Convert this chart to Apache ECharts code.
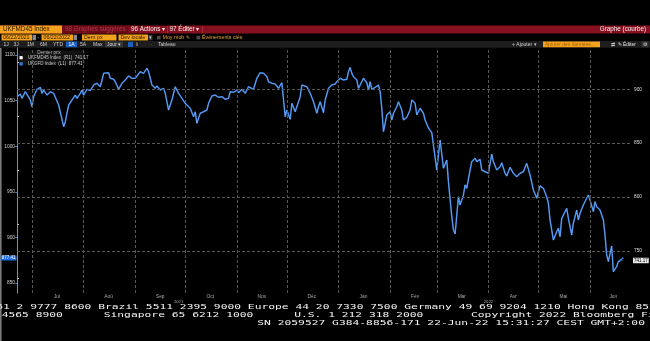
<!DOCTYPE html>
<html>
<head>
<meta charset="utf-8">
<script src="https://cdn.jsdelivr.net/npm/echarts@6/dist/echarts.min.js"></script>
<style>
  html, body { margin: 0; padding: 0; background: #000; }
  #chart { width: 650px; height: 341px; }
</style>
</head>
<body>
<div id="chart"></div>
<script>
// Observation dates shared by both indices
const dates = [
  '2021-06-22','2021-06-24','2021-06-25','2021-06-27','2021-06-28','2021-06-30',
  '2021-07-01','2021-07-02','2021-07-04','2021-07-06','2021-07-07','2021-07-08','2021-07-10','2021-07-12','2021-07-14','2021-07-17','2021-07-20','2021-07-21','2021-07-23','2021-07-25','2021-07-27','2021-07-28','2021-07-30','2021-07-31',
  '2021-08-01','2021-08-03','2021-08-05','2021-08-07','2021-08-09','2021-08-11','2021-08-13','2021-08-14','2021-08-16','2021-08-17','2021-08-19','2021-08-20','2021-08-22','2021-08-24','2021-08-26','2021-08-28','2021-08-30',
  '2021-09-01','2021-09-02','2021-09-04','2021-09-06','2021-09-08','2021-09-09','2021-09-11','2021-09-13','2021-09-14','2021-09-16','2021-09-18','2021-09-19','2021-09-20','2021-09-21','2021-09-23','2021-09-25','2021-09-27','2021-09-29',
  '2021-10-01','2021-10-02','2021-10-04','2021-10-06','2021-10-07','2021-10-08','2021-10-10','2021-10-12','2021-10-14','2021-10-15','2021-10-17','2021-10-19','2021-10-21','2021-10-23','2021-10-25','2021-10-27','2021-10-28','2021-10-30',
  '2021-11-01','2021-11-02','2021-11-04','2021-11-06','2021-11-08','2021-11-09','2021-11-11','2021-11-13','2021-11-15','2021-11-17','2021-11-19','2021-11-20','2021-11-22','2021-11-24','2021-11-26','2021-11-28','2021-11-30',
  '2021-12-01','2021-12-03','2021-12-04','2021-12-06','2021-12-07','2021-12-09','2021-12-10','2021-12-13','2021-12-15','2021-12-17','2021-12-19','2021-12-20','2021-12-21','2021-12-23','2021-12-24','2021-12-26','2021-12-28','2021-12-30','2021-12-31',
  '2022-01-02','2022-01-04','2022-01-06','2022-01-07','2022-01-08','2022-01-09','2022-01-10','2022-01-12','2022-01-13','2022-01-15','2022-01-16','2022-01-18','2022-01-19','2022-01-20','2022-01-21','2022-01-23','2022-01-25','2022-01-26','2022-01-27','2022-01-28','2022-01-29','2022-01-30',
  '2022-02-01','2022-02-02','2022-02-03','2022-02-05','2022-02-06','2022-02-08','2022-02-09','2022-02-11','2022-02-13','2022-02-14','2022-02-16','2022-02-17','2022-02-19','2022-02-21','2022-02-22','2022-02-24','2022-02-26','2022-02-27',
  '2022-03-01','2022-03-03','2022-03-04','2022-03-05','2022-03-07','2022-03-08','2022-03-10','2022-03-11','2022-03-12','2022-03-14','2022-03-15','2022-03-17','2022-03-18','2022-03-19','2022-03-21','2022-03-22','2022-03-24','2022-03-25','2022-03-27','2022-03-28','2022-03-30',
  '2022-04-01','2022-04-03','2022-04-04','2022-04-06','2022-04-08','2022-04-09','2022-04-11','2022-04-12','2022-04-14','2022-04-16','2022-04-18','2022-04-20','2022-04-21','2022-04-22','2022-04-24','2022-04-26','2022-04-28','2022-04-30',
  '2022-05-01','2022-05-02','2022-05-04','2022-05-06','2022-05-07','2022-05-08','2022-05-10','2022-05-12','2022-05-13','2022-05-14','2022-05-15','2022-05-16','2022-05-18','2022-05-19','2022-05-21','2022-05-22','2022-05-24','2022-05-25','2022-05-26','2022-05-28','2022-05-30','2022-05-31',
  '2022-06-01','2022-06-03','2022-06-04','2022-06-05','2022-06-07','2022-06-09','2022-06-10','2022-06-11','2022-06-12','2022-06-14','2022-06-15','2022-06-17','2022-06-18','2022-06-21'
];

// UKGFD Index (left scale, L1)
const ukgfd = [
  1054.3,1057.2,1052.5,1059.8,1058.7,1050.7,
  1043.3,1054.3,1062.4,1064.6,1058.0,1061.6,1056.1,1059.8,1058.0,1045.2,1021.4,1026.9,1045.2,1050.7,1056.1,1052.5,1058.0,1061.6,
  1056.1,1062.4,1060.9,1067.1,1069.0,1065.2,1079.9,1081.7,1080.6,1074.5,1073.4,1070.7,1062.4,1069.0,1072.6,1077.0,1074.5,
  1074.5,1073.4,1081.7,1079.9,1085.4,1081.7,1067.1,1063.5,1066.0,1061.6,1063.5,1058.0,1059.8,1039.7,1050.7,1065.2,1058.0,1052.5,
  1047.0,1048.8,1041.6,1032.3,1037.8,1025.1,1036.1,1037.8,1039.7,1047.0,1055.0,1056.1,1053.6,1054.3,1051.4,1052.5,1059.8,1059.1,
  1061.6,1058.7,1062.4,1058.0,1065.2,1067.1,1062.4,1074.5,1080.6,1079.9,1076.2,1070.7,1069.0,1068.2,1063.5,1069.6,1032.3,
  1039.7,1029.5,1047.0,1037.8,1036.1,1054.3,1067.1,1065.2,1058.0,1048.8,1036.1,1043.3,1048.8,1036.7,1050.7,1063.5,1067.1,1068.2,1070.7,
  1074.5,1072.6,1073.4,1081.7,1086.5,1079.9,1076.2,1072.6,1063.5,1070.7,1074.5,1069.6,1061.6,1070.7,1062.4,1064.6,1067.1,1059.8,1041.6,1015.9,1025.1,1034.2,
  1037.8,1028.7,1036.1,1043.3,1048.8,1039.7,1028.7,1031.7,1039.7,1050.7,1047.0,1034.2,1041.6,1036.1,1028.7,1020.0,1014.8,1015.9,
  973.9,1006.8,1004.9,975.8,984.9,961.1,922.7,908.1,903.7,944.6,935.5,946.5,957.5,953.8,973.9,983.0,986.7,983.0,985.6,973.9,972.0,
  970.3,991.4,983.0,973.9,977.5,981.9,970.3,967.3,976.9,970.3,966.6,970.3,968.4,972.0,981.2,968.4,952.0,942.9,
  950.1,956.4,953.8,944.6,937.4,919.1,897.1,906.2,910.0,900.8,920.9,922.7,931.9,920.9,902.6,915.5,930.0,919.1,926.4,935.5,942.9,946.5,
  941.0,928.2,939.1,933.7,930.0,919.1,902.6,880.7,873.4,890.6,862.4,867.9,873.4,877.41
];

// UKFMD45 Index (right scale, R1)
const ukfmd45 = [
  893.1,895.6,891.6,897.8,896.8,890.1,
  883.9,893.1,900.0,901.8,896.3,899.3,894.7,897.8,896.3,885.4,865.3,869.9,885.4,890.1,894.7,891.6,896.3,899.3,
  894.7,900.0,898.7,904.0,905.6,902.4,914.8,916.3,915.4,910.2,909.3,907.0,900.0,905.6,908.6,912.3,910.2,
  910.2,909.3,916.3,914.8,919.5,916.3,904.0,900.9,903.1,899.3,900.9,896.3,897.8,880.8,890.1,902.4,896.3,891.6,
  887.0,888.5,882.4,874.6,879.2,868.5,877.7,879.2,880.8,887.0,893.8,894.7,892.6,893.1,890.7,891.6,897.8,897.2,
  899.3,896.8,900.0,896.3,902.4,904.0,900.0,910.2,915.4,914.8,911.7,907.0,905.6,904.9,900.9,906.1,874.6,
  880.8,872.2,887.0,879.2,877.7,893.1,904.0,902.4,896.3,888.5,877.7,883.9,888.5,878.3,890.1,900.9,904.0,904.9,907.0,
  910.2,908.6,909.3,916.3,920.4,914.8,911.7,908.6,900.9,907.0,910.2,906.1,899.3,907.0,900.0,901.8,904.0,897.8,882.4,860.7,868.5,876.2,
  879.2,871.5,877.7,883.9,888.5,880.8,871.5,874.0,880.8,890.1,887.0,876.2,882.4,877.7,871.5,864.1,859.7,860.7,
  825.1,853.0,851.4,826.7,834.4,814.3,781.8,769.5,765.8,800.4,792.7,801.9,811.2,808.2,825.1,832.8,836.0,832.8,835.1,825.1,823.6,
  822.1,840.0,832.8,825.1,828.2,831.9,822.1,819.6,827.6,822.1,818.9,822.1,820.5,823.6,831.4,820.5,806.6,798.9,
  805.0,810.3,808.2,800.4,794.2,778.8,760.2,767.9,771.1,763.3,780.3,781.8,789.6,780.3,764.8,775.7,788.0,778.8,785.0,792.7,798.9,801.9,
  797.3,786.5,795.7,791.1,788.0,778.8,764.8,746.3,740.1,754.6,730.8,735.4,740.1,741.17
];

// Axis labels and tick positions
const monthLabels = ['Jul','Aoû','Sep','Oct','Nov','Déc','Jan','Fév','Mar','Avr','Mai','Jun'];
const monthLabelDates = ['2021-07-16','2021-08-16','2021-09-16','2021-10-16','2021-11-16','2021-12-16',
                         '2022-01-16','2022-02-16','2022-03-16','2022-04-16','2022-05-16','2022-06-15'];
const monthStarts = ['2021-07-01','2021-08-01','2021-09-01','2021-10-01','2021-11-01','2021-12-01',
                     '2022-01-01','2022-02-01','2022-03-01','2022-04-01','2022-05-01','2022-06-01'];
const yearLabels = ['2021','2022'];
const yearLabelDates = ['2021-09-27','2022-04-01'];
const leftTicks = [850, 900, 950, 1000, 1050, 1100];
const rightTicks = [750, 800, 850, 900];
const rightAllTicks = [725, 750, 775, 800, 825, 850, 875, 900, 925];

const seriesNames = ['UKFMD45 Index', 'UKGFD Index'];
const seriesTags = ['(R1)', '(L1)'];

// time helpers: the label axes work in days from the first date
const DAY = 86400000;
const T = s => +echarts.number.parseDate(s);
const xMin = T(dates[0]);
const xMax = T('2022-06-25') + 0.6 * DAY;
const toDay = s => Math.round((T(s) - xMin) / DAY);
const dayMax = (xMax - xMin) / DAY;
const monthLabelDays = monthLabelDates.map(toDay);
const yearLabelDays = yearLabelDates.map(toDay);

const lastL = ukgfd[ukgfd.length - 1];
const lastR = ukfmd45[ukfmd45.length - 1];

const SANS = 'Liberation Sans, Arial, sans-serif';
const MONO = 'DejaVu Sans Mono, Liberation Mono, monospace';

function rect(x, y, w, h, fill, z) {
  return { type: 'rect', silent: true, z: z || 0, shape: { x, y, width: w, height: h }, style: { fill } };
}
function txt(x, y, text, fill, size, opts) {
  opts = opts || {};
  return {
    type: 'text', silent: true, z: opts.z || 1, x, y,
    scaleY: opts.scaleY || 1,
    style: {
      text, fill, fontSize: size, fontFamily: opts.family || SANS,
      fontWeight: opts.weight || 'normal',
      align: opts.align || 'left', verticalAlign: 'middle'
    }
  };
}

const ORANGE = '#f4a11c';
const graphics = [
  // title bar
  rect(0, 25.5, 650, 8, '#86101f'),
  rect(0, 25.5, 62, 8, ORANGE, 1),
  txt(3, 29.6, 'UKFMD45 Index', '#201400', 6.3, { z: 2 }),
  rect(62.5, 25.5, 66, 8, '#6a0c18', 1),
  txt(65, 29.6, '98 Graphes suggérés', '#b3374a', 6.3, { z: 2 }),
  txt(131, 29.6, '96 Actions ▾', '#f2f2f2', 6.3, { z: 2 }),
  rect(167, 26, 0.6, 7, '#b84050', 1),
  txt(169.5, 29.6, '97 Éditer ▾', '#f2f2f2', 6.3, { z: 2 }),
  rect(202, 26, 0.6, 7, '#b84050', 1),
  txt(646, 29.6, 'Graphe (courbe)', '#f2f2f2', 6.3, { align: 'right', z: 2 }),

  // date / pricing row
  rect(1.5, 34.5, 30.5, 6, ORANGE, 1),
  txt(3, 37.6, '06/22/2021', '#201400', 5.3, { z: 2 }),
  rect(32.5, 34.8, 3.5, 5.4, '#8a8a8a', 1),
  txt(37.5, 37.6, '-', '#cccccc', 5.3),
  rect(41.5, 34.5, 31.5, 6, ORANGE, 1),
  txt(43.5, 37.6, '06/22/2022', '#201400', 5.3, { z: 2 }),
  rect(73.5, 34.8, 3.5, 5.4, '#8a8a8a', 1),
  rect(82, 34.5, 34.5, 6, ORANGE, 1),
  txt(84, 37.6, 'Dern px', '#201400', 5.3, { z: 2 }),
  rect(118.5, 34.5, 29.5, 6, ORANGE, 1),
  txt(120.5, 37.6, 'Dev locale', '#201400', 5.3, { z: 2 }),
  rect(148.5, 34.8, 4, 5.4, '#3a3a3a', 1),
  txt(149.2, 37.4, '▾', '#cccccc', 4.5, { z: 2 }),
  rect(157, 35.8, 3.6, 3.6, '#4a4a4a', 1),
  txt(162.5, 37.6, 'Moy mob ✎', '#e8a030', 5.3),
  rect(196.5, 35.8, 3.6, 3.6, '#4a4a4a', 1),
  txt(202, 37.6, 'Événements clés', '#e8a030', 5.3),

  // range / toolbar row
  rect(0, 41, 650, 6.8, '#1d1d1d'),
  txt(3.5, 44.5, '1J', '#d0d0d0', 5),
  txt(13.5, 44.5, '3J', '#d0d0d0', 5),
  txt(27, 44.5, '1M', '#d0d0d0', 5),
  txt(40, 44.5, '6M', '#d0d0d0', 5),
  txt(53, 44.5, 'YTD', '#d0d0d0', 5),
  rect(66, 41.5, 11, 5.8, '#1b5fc0', 1),
  txt(68.5, 44.5, '1A', '#ffffff', 5, { z: 2 }),
  txt(80, 44.5, '5A', '#d0d0d0', 5),
  txt(93, 44.5, 'Max', '#d0d0d0', 5),
  rect(105, 41.5, 18, 5.8, '#363636', 1),
  txt(107, 44.5, 'Jour ▾', '#d0d0d0', 5, { z: 2 }),
  rect(128, 41.8, 5, 5.2, '#1b5fc0', 1),
  txt(136, 44.5, 'lı', '#b0b0b0', 5),
  txt(151, 44.5, '·', '#b0b0b0', 5),
  txt(158, 44.5, 'Tableau', '#d0d0d0', 5),
  txt(512, 44.5, '+ Ajouter ▾', '#d0d0d0', 5),
  rect(543, 41.5, 57, 5.8, ORANGE, 1),
  txt(545, 44.5, 'Ajouter des données...', '#a8620a', 5, { z: 2 }),
  txt(611, 44.5, '⇄', '#d0d0d0', 5),
  txt(617.5, 44.5, '✎ Éditer', '#e0e0e0', 5),
  rect(641.5, 41.5, 7, 5.8, '#363636', 1),
  txt(642.5, 44.5, '⚙', '#d0d0d0', 5, { z: 2 }),

  // left frame strip
  rect(0, 48, 1.6, 293, '#7a7a7a'),

  // legend panel
  rect(18.5, 50.5, 67, 14, '#121212'),
  txt(49, 53, 'Dernier prix', '#b8b8b8', 4.6, { align: 'center' }),

  // terminal footer
  txt(-3.8, 307.5, '61 2 9777 8600 Brazil 5511 2395 9000 Europe 44 20 7330 7500 Germany 49 69 9204 1210 Hong Kong 852 2977 6000',
      '#f4f4f4', 11.3, { family: MONO, scaleY: 0.66 }),
  txt(1.7, 315.5, '4565 8900      Singapore 65 6212 1000      U.S. 1 212 318 2000       Copyright 2022 Bloomberg Finance L.P.',
      '#f4f4f4', 11.3, { family: MONO, scaleY: 0.66 }),
  txt(257.3, 323.5, 'SN 2059527 G384-8856-171 22-Jun-22 15:31:27 CEST GMT+2:00',
      '#f4f4f4', 11.3, { family: MONO, scaleY: 0.66 })
];

const gridLine = { color: '#575757', width: 1, type: [3, 2] };
const hiddenAxisParts = {
  axisLine: { show: false }, axisTick: { show: false }, splitLine: { show: false }
};
const invisibleLine = { color: 'rgba(0,0,0,0)', width: 1, opacity: 1 };

const option = {
  backgroundColor: '#000',
  animation: false,
  textStyle: { fontFamily: SANS },
  grid: { left: 17, right: 19, top: 48, bottom: 48, containLabel: false },
  legend: {
    data: seriesNames,
    orient: 'vertical',
    left: 19.5, top: 55.2,
    icon: 'rect', itemWidth: 3.2, itemHeight: 3.2, itemGap: 1.2,
    padding: 0,
    selectedMode: false,
    textStyle: { color: '#c8c8c8', fontSize: 4.5 },
    formatter: name => {
      const i = seriesNames.indexOf(name);
      const v = i === 0 ? lastR : lastL;
      return name + '  ' + seriesTags[i] + '  ' + v.toFixed(2);
    }
  },
  xAxis: [
    // data axis (dates)
    Object.assign({ type: 'time', min: xMin, max: xMax, axisLabel: { show: false } }, hiddenAxisParts),
    // month names, placed mid-month
    Object.assign({
      type: 'value', min: 0, max: dayMax, position: 'bottom',
      axisLabel: {
        customValues: monthLabelDays,
        formatter: v => monthLabels[monthLabelDays.indexOf(v)],
        color: '#a8a8a8', fontSize: 4.8, margin: 1.5
      }
    }, hiddenAxisParts),
    // year names
    Object.assign({
      type: 'value', min: 0, max: dayMax, position: 'bottom', offset: 5,
      axisLabel: {
        customValues: yearLabelDays,
        formatter: v => yearLabels[yearLabelDays.indexOf(v)],
        color: '#a8a8a8', fontSize: 4.2, margin: 1.5
      }
    }, hiddenAxisParts)
  ],
  yAxis: [
    {
      type: 'value', position: 'left', min: 839, max: 1107.7,
      axisLine: { show: true, lineStyle: { color: '#2a6ad0', width: 1 } },
      axisTick: { show: true, customValues: leftTicks, length: 1.8, lineStyle: { color: '#3a80ee' } },
      axisLabel: { customValues: leftTicks, formatter: v => String(v), color: '#d2d2d2', fontSize: 4.8, margin: 2 },
      splitLine: { show: false }
    },
    {
      type: 'value', position: 'right', min: 711, max: 938.3,
      axisLine: { show: true, lineStyle: { color: '#8c8c8c', width: 1 } },
      axisTick: { show: true, customValues: rightAllTicks, length: 2, lineStyle: { color: '#bdbdbd' } },
      axisLabel: { customValues: rightTicks, formatter: v => String(v), color: '#dcdcdc', fontSize: 4.8, margin: 3 },
      splitLine: { show: false }
    }
  ],
  series: [
    {
      // dashed grid: month boundaries and right-scale levels
      type: 'line', xAxisIndex: 0, yAxisIndex: 1, data: [], z: 1, silent: true,
      markLine: {
        silent: true, symbol: ['none', 'none'], animation: false,
        label: { show: false },
        lineStyle: gridLine,
        data: monthStarts.map(d => ({ xAxis: T(d) })).concat(rightTicks.map(v => ({ yAxis: v })))
      }
    },
    {
      name: seriesNames[1], type: 'line', xAxisIndex: 0, yAxisIndex: 0, z: 3,
      data: dates.map((d, i) => [T(d), ukgfd[i]]),
      showSymbol: false, symbol: 'none',
      itemStyle: { color: '#2f7ae6' },
      lineStyle: { color: '#3582e8', width: 1.5 },
      markLine: {
        silent: true, symbol: ['none', 'none'], animation: false,
        lineStyle: invisibleLine,
        data: [{
          yAxis: lastL,
          label: {
            show: true, position: 'start', distance: 0.5,
            formatter: p => Number(p.value).toFixed(2),
            color: '#ffffff', backgroundColor: '#1f6fe0', opacity: 1,
            fontSize: 4.5, lineHeight: 5, padding: [0, 1]
          }
        }]
      }
    },
    {
      name: seriesNames[0], type: 'line', xAxisIndex: 0, yAxisIndex: 1, z: 4,
      data: dates.map((d, i) => [T(d), ukfmd45[i]]),
      showSymbol: false, symbol: 'none',
      itemStyle: { color: '#ffffff' },
      lineStyle: { color: '#eef3fc', width: 0.6, opacity: 0.38 },
      markLine: {
        silent: true, symbol: ['none', 'none'], animation: false,
        lineStyle: invisibleLine,
        data: [{
          yAxis: lastR,
          label: {
            show: true, position: 'end', distance: 2,
            formatter: p => Number(p.value).toFixed(2),
            color: '#000000', backgroundColor: '#e8e8e8', opacity: 1,
            fontSize: 4.5, lineHeight: 5.5, padding: [0, 1]
          }
        }]
      }
    }
  ],
  graphic: { elements: graphics }
};

const chart = echarts.init(document.getElementById('chart'), null, { renderer: 'canvas' });
chart.setOption(option);
</script>
</body>
</html>
